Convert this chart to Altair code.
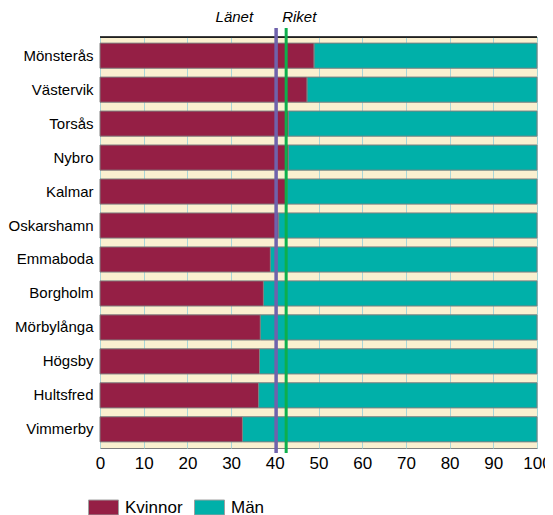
import altair as alt
import pandas as pd

kommuner = ["Mönsterås", "Västervik", "Torsås", "Nybro", "Kalmar", "Oskarshamn",
            "Emmaboda", "Borgholm", "Mörbylånga", "Högsby", "Hultsfred", "Vimmerby"]
kvinnor = [49.0, 47.4, 43.1, 43.1, 42.8, 40.9, 39.0, 37.4, 36.7, 36.5, 36.3, 32.6]
man = [round(100 - k, 1) for k in kvinnor]
series = ["Kvinnor", "Män"]
colors = ["#951F45", "#00B0A9"]
ref_labels = ["Länet", "Riket"]
ref_values = [40.3, 42.6]
ref_colors = ["#6F62AC", "#0DAF4B"]
x_ticks = list(range(0, 101, 10))

rows = []
for k, kv, m in zip(kommuner, kvinnor, man):
    rows.append({"kommun": k, "kon": "Kvinnor", "andel": kv, "ord": 0})
    rows.append({"kommun": k, "kon": "Män", "andel": m, "ord": 1})
df = pd.DataFrame(rows)

FONT = "Liberation Sans"
W, H = 437, 411

xscale = alt.Scale(domain=[0, 100], nice=False)

bars = alt.Chart(df).mark_bar(stroke="#808080", strokeWidth=1).encode(
    x=alt.X("andel:Q", stack="zero", scale=xscale,
            axis=alt.Axis(values=x_ticks, title=None, grid=True, gridColor="#A9D6D8",
                          gridWidth=1, labelFontSize=17, labelColor="black", ticks=False,
                          domain=False, labelPadding=7, labelFont=FONT, labelFlush=False,
                          labelOverlap=False)),
    y=alt.Y("kommun:N", sort=kommuner,
            scale=alt.Scale(paddingInner=0.26, paddingOuter=0.18),
            axis=alt.Axis(title=None, ticks=False, domain=False, labelFontSize=15,
                          labelPadding=7, labelFont=FONT, labelColor="black")),
    color=alt.Color("kon:N", scale=alt.Scale(domain=series, range=colors),
                    legend=alt.Legend(title=None, orient="none", legendX=-12, legendY=455,
                                      direction="horizontal",
                                      symbolType="M-1,-0.5H1V0.5H-1Z", symbolSize=900,
                                      symbolStrokeColor="#A0A0A0", symbolStrokeWidth=1,
                                      labelFontSize=17, labelFont=FONT, labelColor="black",
                                      labelOffset=6, columnPadding=9, padding=0)),
    order=alt.Order("ord:Q"),
)

refdf = pd.DataFrame({"label": ref_labels, "value": ref_values, "col": ref_colors})

lanet_rule = alt.Chart(refdf.iloc[[0]]).mark_rule(color=ref_colors[0], strokeWidth=3.5).encode(
    x=alt.X("value:Q", scale=xscale), y=alt.value(-9), y2=alt.value(H + 5))
riket_rule = alt.Chart(refdf.iloc[[1]]).mark_rule(color=ref_colors[1], strokeWidth=3).encode(
    x=alt.X("value:Q", scale=xscale), y=alt.value(-9), y2=alt.value(H + 5))

lanet_text = alt.Chart(refdf.iloc[[0]]).mark_text(
    align="right", dx=-23, fontStyle="italic", fontSize=15, font=FONT, baseline="alphabetic"
).encode(x=alt.X("value:Q", scale=xscale), y=alt.value(-15), text="label:N")
riket_text = alt.Chart(refdf.iloc[[1]]).mark_text(
    align="left", dx=-4, fontStyle="italic", fontSize=15, font=FONT, baseline="alphabetic"
).encode(x=alt.X("value:Q", scale=xscale), y=alt.value(-15), text="label:N")

top_line = alt.Chart(refdf.iloc[[0]]).mark_rule(color="black", strokeWidth=1.5).encode(
    x=alt.value(0), x2=alt.value(W), y=alt.value(0))

chart = alt.layer(bars, top_line, lanet_rule, riket_rule, lanet_text, riket_text).properties(
    width=W, height=H,
    autosize=alt.AutoSizeParams(type="none"),
    padding={"left": 92, "top": 29, "right": 8, "bottom": 67},
).configure_view(fill="#FAF0D0", stroke="#808080", strokeWidth=1)

chart.save("out.html", embed_options={"renderer": "svg", "actions": False})
